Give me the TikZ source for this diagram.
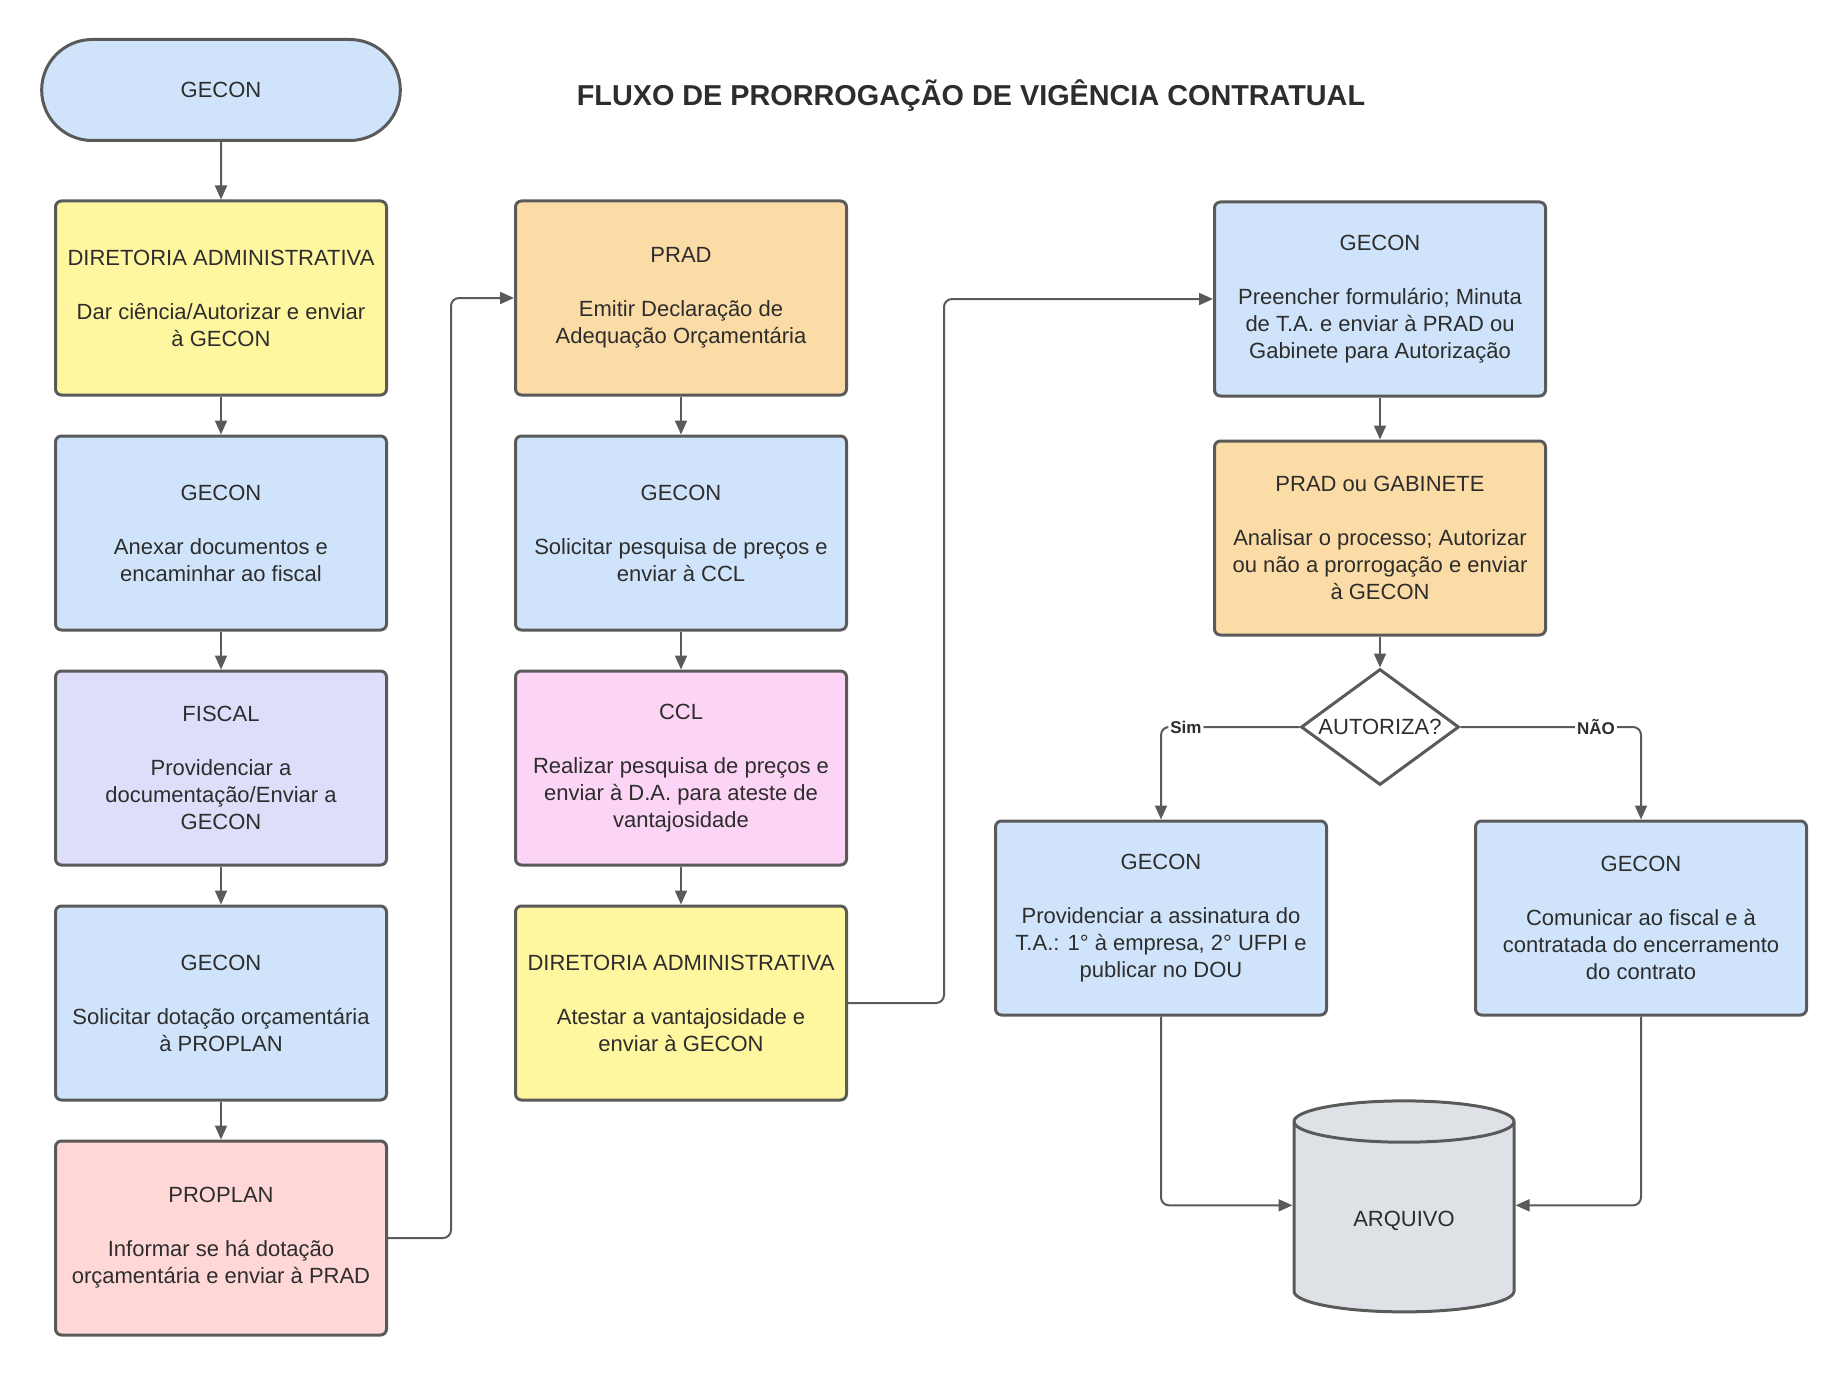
\documentclass[tikz,border=0pt]{standalone}
\usepackage{fontspec}
\setmainfont{Liberation Sans}
\usetikzlibrary{shapes.geometric,shapes.misc,arrows.meta}

\definecolor{azul}{RGB}{207,228,250}
\definecolor{amarelo}{RGB}{255,246,160}
\definecolor{laranja}{RGB}{252,220,166}
\definecolor{lilas}{RGB}{221,222,250}
\definecolor{magenta}{RGB}{252,212,245}
\definecolor{rosa}{RGB}{255,215,215}
\definecolor{cinza}{RGB}{222,226,230}
\definecolor{borda}{RGB}{90,90,90}
\definecolor{texto}{RGB}{45,45,45}

\begin{document}
\begin{tikzpicture}[x=0.5pt,y=-0.5pt,
	caixa/.style={draw=borda, line width=1.5pt, rounded corners=3pt, minimum width=165.5pt, minimum height=97pt, align=center, text=texto, font=\fontsize{11}{13.5}\selectfont},
	inicio/.style={rounded rectangle, draw=borda, line width=1.5pt, fill=azul, minimum width=186pt, minimum height=50.5pt, text=texto, font=\fontsize{11}{13.5}\selectfont},
	decisao/.style={diamond, aspect=1.37, draw=borda, line width=1.5pt, fill=white, inner sep=0pt, minimum width=79pt, minimum height=58pt, text=texto, font=\fontsize{11}{13.5}\selectfont},
	cilindro/.style={cylinder, shape border rotate=90, aspect=0.36, draw=borda, line width=1.5pt, fill=cinza, minimum width=110pt, minimum height=105.5pt, text=texto, font=\fontsize{11}{13.5}\selectfont},
	fluxo/.style={draw=borda, line width=1pt, rounded corners=4pt, -{Triangle[length=7pt,width=6pt]}},
	rotulo/.style={fill=white, inner sep=1pt, text=texto, font=\bfseries\fontsize{8.5}{10}\selectfont}]
\useasboundingbox (0,0) rectangle (1846,1375);
\fill[white] (0,0) rectangle (1846,1375);

\node[text=texto, font=\bfseries\fontsize{14.4}{17}\selectfont] (titulo) at (971,96) {FLUXO DE PRORROGAÇÃO DE VIGÊNCIA CONTRATUAL};

% coluna 1
\node[inicio] (ini) at (221,90) {GECON};
\node[caixa, fill=amarelo] (da1) at (221,298) {DIRETORIA ADMINISTRATIVA\\[\baselineskip]Dar ciência/Autorizar e enviar\\à GECON};
\node[caixa, fill=azul] (g1) at (221,533) {GECON\\[\baselineskip]Anexar documentos e\\encaminhar ao fiscal};
\node[caixa, fill=lilas] (fis) at (221,768) {FISCAL\\[\baselineskip]Providenciar a\\documentação/Enviar a\\GECON};
\node[caixa, fill=azul] (g2) at (221,1003) {GECON\\[\baselineskip]Solicitar dotação orçamentária\\à PROPLAN};
\node[caixa, fill=rosa] (ppl) at (221,1238) {PROPLAN\\[\baselineskip]Informar se há dotação\\orçamentária e enviar à PRAD};

% coluna 2
\node[caixa, fill=laranja] (prad) at (681,298) {PRAD\\[\baselineskip]Emitir Declaração de\\Adequação Orçamentária};
\node[caixa, fill=azul] (g3) at (681,533) {GECON\\[\baselineskip]Solicitar pesquisa de preços e\\enviar à CCL};
\node[caixa, fill=magenta] (ccl) at (681,768) {CCL\\[\baselineskip]Realizar pesquisa de preços e\\enviar à D.A. para ateste de\\vantajosidade};
\node[caixa, fill=amarelo] (da2) at (681,1003) {DIRETORIA ADMINISTRATIVA\\[\baselineskip]Atestar a vantajosidade e\\enviar à GECON};

% coluna 3
\node[caixa, fill=azul] (g4) at (1380,299) {GECON\\[\baselineskip]Preencher formulário; Minuta\\de T.A. e enviar à PRAD ou\\Gabinete para Autorização};
\node[caixa, fill=laranja] (pg) at (1380,538) {PRAD ou GABINETE\\[\baselineskip]Analisar o processo; Autorizar\\ou não a prorrogação e enviar\\à GECON};
\node[decisao] (dec) at (1380,727) {AUTORIZA?};
\node[caixa, fill=azul] (gs) at (1161,918) {GECON\\[\baselineskip]Providenciar a assinatura do\\T.A.: 1° à empresa, 2° UFPI e\\publicar no DOU};
\node[caixa, fill=azul] (gn) at (1641,918) {GECON\\[\baselineskip]Comunicar ao fiscal e à\\contratada do encerramento\\do contrato};
\node[cilindro] (arq) at (1404,1221) {ARQUIVO};

\coordinate (ca) at (451,0);
\coordinate (cb) at (944,0);

\draw[fluxo] (ini) -- (da1);
\draw[fluxo] (da1) -- (g1);
\draw[fluxo] (g1) -- (fis);
\draw[fluxo] (fis) -- (g2);
\draw[fluxo] (g2) -- (ppl);
\draw[fluxo] (ppl.east) -- (ppl.east -| ca) |- (prad.west);
\draw[fluxo] (prad) -- (g3);
\draw[fluxo] (g3) -- (ccl);
\draw[fluxo] (ccl) -- (da2);
\draw[fluxo] (da2.east) -- (da2.east -| cb) |- (g4.west);
\draw[fluxo] (g4) -- (pg);
\draw[fluxo] (pg) -- (dec);
\draw[fluxo] (dec.west) -| node[rotulo, pos=0.41] {Sim} (gs.north);
\draw[fluxo] (dec.east) -| node[rotulo, pos=0.375] {NÃO} (gn.north);
\draw[fluxo] (gs.south) |- (arq.172);
\draw[fluxo] (gn.south) |- (arq.8);
\end{tikzpicture}
\end{document}
